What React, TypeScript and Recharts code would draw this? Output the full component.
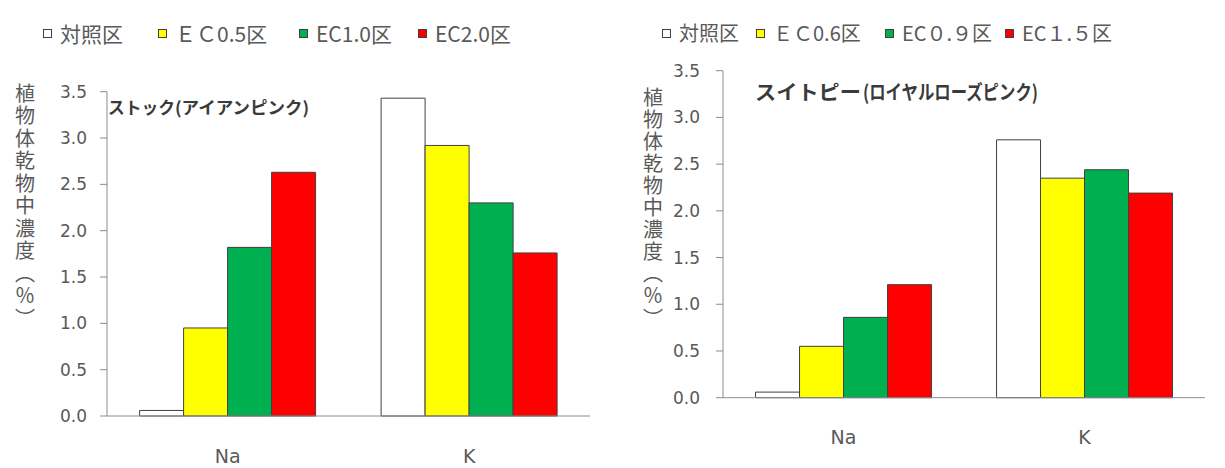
import React from 'react';
import { BarChart, Bar, XAxis, YAxis, Legend, Customized } from 'recharts';

// shared categories and value axis
const elements = ['Na', 'K'];
const yTicks = [0, 0.5, 1.0, 1.5, 2.0, 2.5, 3.0, 3.5];
const axisCaption = '植物体乾物中濃度（％）';

// ストック（アイアンピンク）
const stockTitle = ['ストック', '(アイアンピンク)'];
const stockNames = ['対照区', 'ＥＣ0.5区', 'EC1.0区', 'EC2.0区'];
const stockControl = [0.06, 3.43];
const stockEc05 = [0.95, 2.92];
const stockEc10 = [1.82, 2.3];
const stockEc20 = [2.63, 1.76];

// スイトピー（ロイヤルローズピンク）
const peaTitle = ['スイトピー', '(ロイヤルローズピンク)'];
const peaNames = ['対照区', 'ＥＣ0.6区', 'EC０.９区', 'EC１.５区'];
const peaControl = [0.06, 2.76];
const peaEc06 = [0.55, 2.35];
const peaEc09 = [0.86, 2.44];
const peaEc15 = [1.21, 2.19];

const FILLS = ['#ffffff', '#ffff00', '#00b050', '#ff0000'];
const KEYS = ['s0', 's1', 's2', 's3'];
const AXIS = '#8c8c8c';
const TEXT = '#595959';
const JP = "'Noto Sans CJK JP', sans-serif";
const NUM = "'DejaVu Sans', sans-serif";

const buildRows = (series: number[][]) =>
  elements.map((el, i) => {
    const row: Record<string, string | number> = { el };
    series.forEach((s, k) => (row[KEYS[k]] = s[i]));
    return row;
  });

type PanelProps = {
  width: number;
  height: number;
  margin: { top: number; right: number; bottom: number; left: number };
  axisWidth: number;
  yTickMargin: number;
  xTickMargin: number;
  names: string[];
  series: number[][];
  title: string[];
  titleLayout: { x: number; y: number; size: number; len: number; sub: number; subLen: number };
  caption: { x: number; y: number; spacing: number };
  legendSlots: number[];
  legendSize: number;
};

function Panel(p: PanelProps) {
  const rows = buildRows(p.series);

  const renderLegend = (props: any) => {
    const items = (props.payload || []).slice();
    return (
      <div style={{ position: 'relative', height: 28 }}>
        {items.map((it: any) => {
          const k = KEYS.indexOf(String(it.dataKey));
          return (
            <div
              key={k}
              style={{
                position: 'absolute',
                left: p.legendSlots[k],
                top: 0,
                display: 'flex',
                alignItems: 'center',
                whiteSpace: 'nowrap',
                fontSize: p.legendSize,
                lineHeight: '28px',
                color: TEXT,
                fontFamily: JP,
              }}
            >
              <span
                style={{
                  display: 'inline-block',
                  width: 7,
                  height: 7,
                  background: FILLS[k],
                  border: '1px solid #404040',
                  marginRight: 8,
                }}
              />
              {it.value}
            </div>
          );
        })}
      </div>
    );
  };

  const Annotations = () => {
    const t = p.titleLayout;
    return (
      <g>
        <text
          x={t.x}
          y={t.y}
          fontSize={t.size}
          fontWeight="bold"
          fill="#3a3a3a"
          fontFamily={JP}
          textLength={t.len}
          lengthAdjust="spacingAndGlyphs"
        >
          {p.title[0]}
        </text>
        <text
          x={t.sub}
          y={t.y}
          fontSize={t.size}
          fontWeight="bold"
          fill="#3a3a3a"
          fontFamily={JP}
          textLength={t.subLen}
          lengthAdjust="spacingAndGlyphs"
        >
          {p.title[1]}
        </text>
        <text
          x={p.caption.x}
          y={p.caption.y}
          fontSize={20}
          letterSpacing={p.caption.spacing}
          fill={TEXT}
          fontFamily={JP}
          style={{ writingMode: 'vertical-rl' }}
        >
          {axisCaption}
        </text>
      </g>
    );
  };

  return (
    <BarChart
      width={p.width}
      height={p.height}
      data={rows}
      margin={p.margin}
      barCategoryGap="13.5%"
      barGap={0}
    >
      <XAxis
        xAxisId="edge"
        type="number"
        domain={[0, 2]}
        ticks={[0, 1, 2]}
        allowDataOverflow
        height={1}
        tick={false}
        axisLine={false}
        tickSize={6}
        tickLine={{ stroke: '#a6a6a6' }}
      />
      <XAxis
        xAxisId="cat"
        dataKey="el"
        height={1}
        interval={0}
        tickLine={false}
        tickSize={6}
        tickMargin={p.xTickMargin}
        axisLine={{ stroke: AXIS }}
        tick={{ fontSize: 19, fill: TEXT, fontFamily: NUM }}
      />
      <YAxis
        width={p.axisWidth}
        domain={[0, 3.5]}
        ticks={yTicks}
        interval={0}
        tickFormatter={(v: number) => v.toFixed(1)}
        tickSize={7}
        tickMargin={p.yTickMargin}
        axisLine={{ stroke: AXIS }}
        tickLine={{ stroke: AXIS }}
        tick={{ fontSize: 17, fill: TEXT, fontFamily: NUM }}
      />
      <Legend
        layout="horizontal"
        verticalAlign="middle"
        align="center"
        content={renderLegend}
        wrapperStyle={{ top: 19, left: 0, width: p.width }}
      />
      {KEYS.map((k, i) => (
        <Bar
          key={k}
          xAxisId="cat"
          dataKey={k}
          name={p.names[i]}
          fill={FILLS[i]}
          stroke="#404040"
          strokeWidth={1}
          isAnimationActive={false}
        />
      ))}
      <Customized component={Annotations} />
    </BarChart>
  );
}

export default function App() {
  return (
    <div
      style={{
        position: 'absolute',
        left: 0,
        top: 0,
        width: 1225,
        height: 468,
        background: '#ffffff',
        overflow: 'hidden',
      }}
    >
      <div style={{ position: 'absolute', left: 0, top: 0 }}>
        <Panel
          width={600}
          height={468}
          margin={{ top: 91.7, right: 10, bottom: 50, left: 0 }}
          axisWidth={107}
          yTickMargin={13}
          xTickMargin={28}
          names={stockNames}
          series={[stockControl, stockEc05, stockEc10, stockEc20]}
          title={stockTitle}
          titleLayout={{ x: 108, y: 114, size: 17, len: 67, sub: 175, subLen: 134 }}
          caption={{ x: 25, y: 83, spacing: 2.5 }}
          legendSlots={[43, 158, 299, 418]}
          legendSize={21}
        />
      </div>
      <div style={{ position: 'absolute', left: 600, top: 0 }}>
        <Panel
          width={625}
          height={468}
          margin={{ top: 70.7, right: 20, bottom: 68.3, left: 0 }}
          axisWidth={123}
          yTickMargin={16}
          xTickMargin={27}
          names={peaNames}
          series={[peaControl, peaEc06, peaEc09, peaEc15]}
          title={peaTitle}
          titleLayout={{ x: 155, y: 100, size: 20, len: 106, sub: 263, subLen: 175 }}
          caption={{ x: 53, y: 87, spacing: 2.1 }}
          legendSlots={[62, 156, 285, 405]}
          legendSize={20}
        />
      </div>
    </div>
  );
}
